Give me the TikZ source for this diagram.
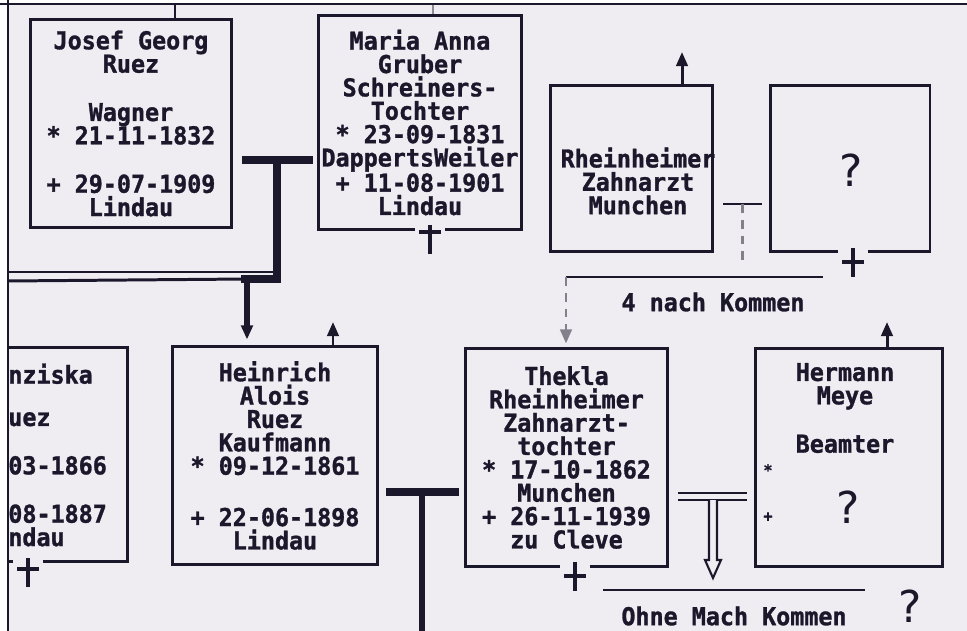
\documentclass[tikz,border=0pt]{standalone}
\usepackage{fontspec}
\usetikzlibrary{arrows.meta,calc}
\newfontfamily\dotfont{DejaVu Sans Mono}[FakeStretch=0.95,FakeBold=1.2]
\newfontfamily\qfont{DejaVu Sans}
\definecolor{paper}{RGB}{240,237,242}
\definecolor{ink}{RGB}{28,24,44}

\begin{document}
\begin{tikzpicture}[x=0.02cm,y=-0.02cm,
  pbox/.style={draw=ink,line width=1.7pt,fill=paper,align=center,inner sep=0pt,text=ink,
    font=\dotfont\bfseries\fontsize{14}{13.3}\selectfont},
  ptext/.style={align=center,inner sep=0pt,text=ink,font=\dotfont\bfseries\fontsize{14}{13.3}\selectfont},
  pmark/.style={inner sep=0pt,text=ink,font=\dotfont\bfseries\fontsize{9}{9}\selectfont},
  qmark/.style={inner sep=0pt,text=ink,font=\qfont\fontsize{25}{25}\selectfont},
  conn/.style={draw=ink,line width=1.7pt},
  heavy/.style={draw=ink,line width=4.5pt},
  dashc/.style={draw=ink!55,line width=1.7pt,dash pattern=on 5pt off 4pt},
  tip/.style={-{Triangle[length=8pt,width=6.5pt]}},
  cross/.style={draw=ink,line width=2.8pt}]
  \useasboundingbox (0,0) rectangle (967,631);
  \fill[white] (0,0) rectangle (967,631);
  \fill[paper] (8,4) rectangle (967,631);
  \begin{scope}
  \clip (8,4) rectangle (967,631);
  % obere Reihe
  \node[pbox,minimum width=4.04cm,minimum height=4.18cm] (josef) at (131,123.5)
    {Josef Georg\\Ruez\\[0.5cm]Wagner\\* 21-11-1832\\[0.5cm]+ 29-07-1909\\Lindau};
  \node[pbox,minimum width=4.08cm,minimum height=4.30cm] (maria) at (420,122.5)
    {Maria Anna\\Gruber\\Schreiners-\\Tochter\\* 23-09-1831\\DappertsWeiler\\+ 11-08-1901\\Lindau};
  \node[pbox,minimum width=3.26cm,minimum height=3.34cm] (rhein) at (631.5,168.5) {};
  \node[ptext] (rheintxt) at (638,181) {Rheinheimer\\Zahnarzt\\Munchen};
  \node[pbox,minimum width=3.2cm,minimum height=3.34cm] (unk) at (850,168.5) {};
  \node[qmark] (unkq) at (851,170) {?};
  % untere Reihe
  \node[pbox,minimum width=4.16cm,minimum height=4.30cm] (franz) at (24,454.5) {};
  \node[ptext,align=left,anchor=west] (franztxt) at (8,455)
    {nziska\\[0.38cm]uez\\[0.5cm]03-1866\\[0.5cm]08-1887\\[0cm]ndau};
  \node[pbox,minimum width=4.12cm,minimum height=4.38cm] (heinrich) at (275,455.5)
    {Heinrich\\Alois\\Ruez\\Kaufmann\\* 09-12-1861\\[0.56cm]+ 22-06-1898\\Lindau};
  \node[pbox,minimum width=4.06cm,minimum height=4.38cm] (thekla) at (566.5,457.5)
    {Thekla\\Rheinheimer\\Zahnarzt-\\tochter\\* 17-10-1862\\Munchen\\+ 26-11-1939\\zu Cleve};
  \node[pbox,minimum width=3.76cm,minimum height=4.38cm] (hermann) at (849,457.5) {};
  \node[ptext] (hermtxt) at (845,408) {Hermann\\Meye\\[0.5cm]Beamter};
  \node[pmark] (hstar) at (768,470) {*};
  \node[pmark] (hplus) at (768,517) {+};
  \node[qmark] (hermq) at (848,507) {?};
  % Ehe Josef -- Maria
  \coordinate (t1) at (277,160);
  \coordinate (k1) at (247,279);
  \coordinate (sib) at (8,272);
  \draw[heavy] ($(josef.east |- t1)+(9,0)$) -- ($(maria.west |- t1)+(-4,0)$);
  \draw[conn] (sib) -- (274,272);
  \draw[conn] (8,281) -- (k1);
  \draw[heavy] (t1) -- (277,279) -- (241,279);
  \draw[ink,line width=3pt,tip] (k1) -- ($(heinrich.north -| k1)+(0,-5)$);
  % Ehe Heinrich -- Thekla
  \coordinate (t2) at (422,492);
  \draw[heavy,line width=5pt] ($(heinrich.east |- t2)+(7,0)$) -- ($(thekla.west |- t2)+(-5,0)$);
  \draw[heavy,line width=3.5pt] (t2) -- (422,640);
  % Ehe Rheinheimer -- ?
  \coordinate (t3) at (742,204);
  \coordinate (kids) at (566,277);
  \draw[conn] ($(rhein.east |- t3)+(9,0)$) -- ($(unk.west |- t3)+(-7,0)$);
  \draw[dashc] (t3) -- (742,262);
  \draw[conn] (kids) -- (823,277);
  \draw[dashc,tip] (kids) -- ($(thekla.north -| kids)+(0,-3)$);
  \node[ptext] (nachk) at (713,302) {4 nach Kommen};
  % Ehe Thekla -- Hermann
  \coordinate (dbl) at (713,500);
  \draw[conn] ($(thekla.east)+(9,35.5)$) -- ($(hermann.west)+(-7,35.5)$);
  \draw[conn] ($(thekla.east)+(9,42.5)$) -- ($(hermann.west)+(-7,42.5)$);
  \draw[ink,line width=1.2pt,fill=paper] (dbl) ++(-4,0) -- ++(0,60) -- ++(-4,0) -- ++(8,18)
    -- ++(8,-18) -- ++(-4,0) -- ++(0,-60);
  \coordinate (ol) at (603,590);
  \coordinate (or) at (865,590);
  \draw[conn] (ol) -- (or);
  \node[ptext] (ohne) at (734,616) {Ohne Mach Kommen};
  \node[qmark] (endq) at (910,606) {?};
  % Pfeile nach oben
  \coordinate (jt) at (175,0);
  \coordinate (mt) at (433,0);
  \coordinate (ra) at (682,52);
  \coordinate (ha) at (333,322);
  \coordinate (hb) at (887,322);
  \draw[conn] (josef.north -| jt) -- (jt);
  \draw[draw=ink!50,line width=1pt] (maria.north -| mt) -- (mt);
  \draw[conn,tip] (rhein.north -| ra) -- (ra);
  \draw[conn,tip] (heinrich.north -| ha) -- (ha);
  \draw[conn,tip] (hermann.north -| hb) -- (hb);
  % Kreuze
  \foreach \px/\py/\bb/\cy in {430/225/230/232,853/248/252/262,28/558/562/569,575/562/567/576}{
    \fill[paper] (\px-15,\bb-4) rectangle (\px+15,\bb+4);
    \draw[cross] (\px,\py) -- (\px,\py+29) (\px-11,\cy) -- (\px+11,\cy);
  }
  \end{scope}
  % Rahmen
  \draw[ink,line width=1.7pt] (0,4) -- (967,4);
  \draw[ink,line width=1.7pt] (8,0) -- (8,631);
\end{tikzpicture}
\end{document}
